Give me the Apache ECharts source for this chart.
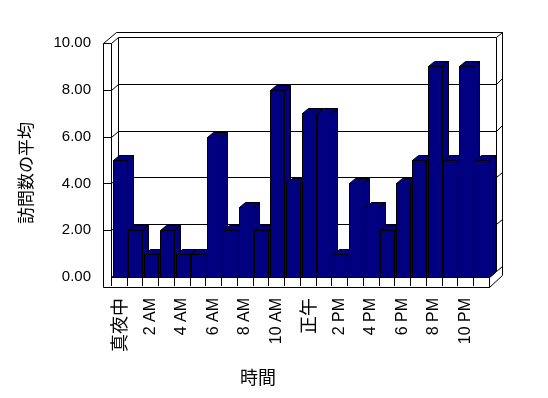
<!DOCTYPE html>
<html>
<head>
<meta charset="utf-8">
<script src="https://cdn.jsdelivr.net/npm/echarts@6/dist/echarts.min.js"></script>
<style>
  html, body { margin: 0; padding: 0; background: #fff; }
  #main { width: 548px; height: 398px; }
</style>
</head>
<body>
<div id="main"></div>
<script>
  // 時間ごとの訪問数の平均
  var hours = ['真夜中', '1 AM', '2 AM', '3 AM', '4 AM', '5 AM', '6 AM', '7 AM', '8 AM', '9 AM', '10 AM', '11 AM',
               '正午', '1 PM', '2 PM', '3 PM', '4 PM', '5 PM', '6 PM', '7 PM', '8 PM', '9 PM', '10 PM', '11 PM'];
  var visits = [5, 2, 1, 2, 1, 1, 6, 2, 3, 2, 8, 4, 7, 7, 1, 4, 3, 2, 4, 5, 9, 5, 9, 5];
  var yTicks = [0, 2, 4, 6, 8, 10];

  var FONT = '"Liberation Sans", Arial, "Noto Sans CJK JP", sans-serif';
  var CJK = '"Noto Sans CJK JP", sans-serif';
  var NAVY = '#000080';

  // 奥行き (擬似3D)
  var WALL_T = 8;          // 壁の厚み
  var FLOOR_H = 9.5;       // 床の厚み
  var IN_D = [7, -6];      // 前面 -> 奥の壁
  var OUT_D = [13, -11.5]; // 前面 -> 壁の外側
  var BAR_D = [6, -5];     // 棒の奥行き

  function px(v) { return Math.round(v) + 0.5; }

  function seg(x1, y1, x2, y2) {
    return {
      type: 'line',
      shape: { x1: px(x1), y1: px(y1), x2: px(x2), y2: px(y2) },
      style: { stroke: '#000', lineWidth: 1 }
    };
  }

  function renderFrame(params, api) {
    var cs = params.coordSys;
    var x0 = cs.x, x1 = cs.x + cs.width;
    var yTop = cs.y, yBot = cs.y + cs.height;
    var v = api.value(1);
    var yF = api.coord([0, v])[1];
    var items = [];

    // 目盛線: 左壁の前面 -> 側面 -> 奥の壁 -> 右端
    if (v > 0) {
      items.push(seg(x0 - WALL_T, yF, x0, yF));
    }
    items.push(seg(x0, yF, x0 + IN_D[0], yF + IN_D[1]));
    items.push(seg(x0 + IN_D[0], yF + IN_D[1], x1 + IN_D[0], yF + IN_D[1]));
    items.push(seg(x1 + IN_D[0], yF + IN_D[1], x1 + OUT_D[0], yF + OUT_D[1]));
    if (v === 0) {
      items.push(seg(x1, yF, x1 + IN_D[0], yF + IN_D[1]));
    }

    // 枠は最初の一回だけ
    if (params.dataIndex === 0) {
      items.push(seg(x0 - WALL_T, yTop, x0 - WALL_T, yBot + FLOOR_H));
      items.push(seg(x0, yTop, x0, yBot));
      items.push(seg(x0 - WALL_T, yTop, x0 - WALL_T + OUT_D[0], yTop + OUT_D[1]));
      items.push(seg(x0 - WALL_T + OUT_D[0], yTop + OUT_D[1], x1 + OUT_D[0], yTop + OUT_D[1]));
      items.push(seg(x0 + IN_D[0], yTop + IN_D[1], x0 + IN_D[0], yBot + IN_D[1]));
      items.push(seg(x1 + IN_D[0], yTop + IN_D[1], x1 + IN_D[0], yBot + IN_D[1]));
      items.push(seg(x1 + OUT_D[0], yTop + OUT_D[1], x1 + OUT_D[0], yBot + FLOOR_H + OUT_D[1]));
      // 床の前面
      items.push(seg(x0, yBot, x1, yBot));
      items.push(seg(x0 - WALL_T, yBot + FLOOR_H, x1, yBot + FLOOR_H));
      items.push(seg(x1, yBot, x1, yBot + FLOOR_H));
      items.push(seg(x1, yBot + FLOOR_H, x1 + OUT_D[0], yBot + FLOOR_H + OUT_D[1]));
    }
    return { type: 'group', children: items };
  }

  function renderBar(params, api) {
    var i = api.value(0);
    var top = api.coord([i, api.value(1)]);
    var base = api.coord([i, 0]);
    var bw = api.size([1, 0])[0] * 0.88;
    var xl = px(top[0] - bw / 2 + 0.8), xr = px(top[0] + bw / 2 + 0.8);
    var yt = px(top[1]), yb = px(base[1]);
    var dx = BAR_D[0], dy = BAR_D[1];
    var style = { fill: NAVY, stroke: '#000', lineWidth: 1 };
    return {
      type: 'group',
      children: [
        { type: 'rect', shape: { x: xl, y: yt, width: xr - xl, height: yb - yt }, style: style },
        { type: 'polygon', shape: { points: [[xr, yt], [xr + dx, yt + dy], [xr + dx, yb + dy], [xr, yb]] }, style: style },
        { type: 'polygon', shape: { points: [[xl, yt], [xr, yt], [xr + dx, yt + dy], [xl + dx, yt + dy]] }, style: style }
      ]
    };
  }

  var myChart = echarts.init(document.getElementById('main'));
  var option = {
    backgroundColor: '#fff',
    animation: false,
    grid: { left: 111, right: 59, top: 43, bottom: 121 },
    xAxis: {
      type: 'category',
      data: hours,
      axisLine: { show: false },
      axisTick: { show: true, interval: 0, length: 9, lineStyle: { color: '#000' } },
      axisLabel: {
        interval: 1,
        rotate: 90,
        margin: 21,
        color: '#000',
        fontFamily: FONT,
        fontSize: 16,
        formatter: function (val) {
          return /[^\x00-\x7f]/.test(val) ? '{j|' + val + '}' : val;
        },
        rich: { j: { fontFamily: CJK, fontSize: 18, color: '#000' } }
      }
    },
    yAxis: {
      type: 'value',
      min: 0,
      max: 10,
      interval: 2,
      axisLine: { show: false },
      axisTick: { show: false },
      splitLine: { show: false },
      axisLabel: {
        margin: 20,
        color: '#000',
        fontFamily: FONT,
        fontSize: 15,
        formatter: function (v) { return v.toFixed(2); }
      }
    },
    graphic: [
      {
        type: 'text', x: 26, y: 173, rotation: Math.PI / 2,
        style: { text: '訪問数の平均', font: '17px ' + CJK, fill: '#000', textAlign: 'center', textVerticalAlign: 'middle' }
      },
      {
        type: 'text', x: 258, y: 377,
        style: { text: '時間', font: '18px ' + CJK, fill: '#000', textAlign: 'center', textVerticalAlign: 'middle' }
      }
    ],
    series: [
      {
        type: 'custom',
        z: 1,
        renderItem: renderFrame,
        data: yTicks.map(function (v) { return [0, v]; })
      },
      {
        type: 'custom',
        z: 2,
        renderItem: renderBar,
        data: visits.map(function (v, i) { return [i, v]; })
      }
    ]
  };
  myChart.setOption(option);
</script>
</body>
</html>
